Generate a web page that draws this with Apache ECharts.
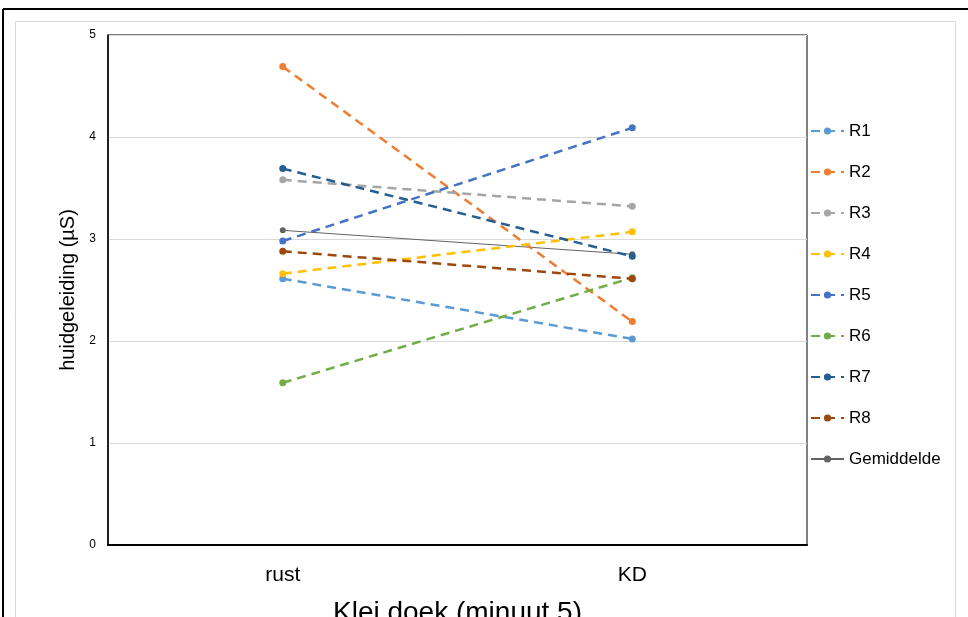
<!DOCTYPE html>
<html>
<head>
<meta charset="utf-8">
<script src="https://cdn.jsdelivr.net/npm/echarts@6/dist/echarts.min.js"></script>
<style>
  html, body { margin: 0; padding: 0; background: #fff; }
  #chart { width: 968px; height: 617px; }
</style>
</head>
<body>
<div id="chart"></div>
<script>
// Huidgeleiding per respondent: rust vs. klei doek (minuut 5)
const categories = ['rust', 'KD'];
const seriesNames = ['R1', 'R2', 'R3', 'R4', 'R5', 'R6', 'R7', 'R8', 'Gemiddelde'];
const R1 = [2.61, 2.02];
const R2 = [4.69, 2.19];
const R3 = [3.58, 3.32];
const R4 = [2.66, 3.07];
const R5 = [2.98, 4.09];
const R6 = [1.59, 2.62];
const R7 = [3.69, 2.83];
const R8 = [2.88, 2.61];
const Gemiddelde = [3.085, 2.85];
const yTicks = [0, 1, 2, 3, 4, 5];

const values = [R1, R2, R3, R4, R5, R6, R7, R8, Gemiddelde];
const colors = ['#5B9BD5', '#ED7D31', '#A5A5A5', '#FFC000', '#4472C4', '#70AD47', '#255E91', '#9E480E', '#636363'];

const FONT = '"Liberation Sans", Arial, sans-serif';

const series = seriesNames.map((name, i) => {
  const isMean = name === 'Gemiddelde';
  return {
    name: name,
    type: 'line',
    data: values[i],
    symbol: 'circle',
    symbolSize: isMean ? 6 : 7,
    z: isMean ? 1 : 2,
    itemStyle: { color: colors[i] },
    lineStyle: {
      color: colors[i],
      width: isMean ? 1 : 2.5,
      type: isMean ? 'solid' : [9, 6]
    }
  };
});

const chart = echarts.init(document.getElementById('chart'), null, { renderer: 'canvas' });
chart.setOption({
  animation: false,
  backgroundColor: '#ffffff',
  textStyle: { fontFamily: FONT },
  graphic: [
    // outer frame
    { type: 'line', shape: { x1: 3, y1: 9, x2: 968, y2: 9 }, style: { stroke: '#000', lineWidth: 2 } },
    { type: 'line', shape: { x1: 3, y1: 9, x2: 3, y2: 617 }, style: { stroke: '#000', lineWidth: 2 } },
    // chart area border
    { type: 'rect', shape: { x: 15.5, y: 21.5, width: 940, height: 620 }, style: { fill: 'none', stroke: '#d9d9d9', lineWidth: 1 } }
  ],
  grid: {
    left: 108, top: 35, right: 161, bottom: 72,
    outerBoundsMode: 'none',
    containLabel: false,
    show: true, borderColor: '#000', borderWidth: 1, backgroundColor: 'transparent'
  },
  legend: {
    orient: 'vertical',
    left: 810,
    top: 121,
    padding: 0,
    itemGap: 21,
    itemWidth: 33,
    itemHeight: 9,
    textStyle: { fontFamily: FONT, fontSize: 17, color: '#000', lineHeight: 20 },
    data: seriesNames
  },
  xAxis: {
    type: 'category',
    data: categories,
    boundaryGap: true,
    name: 'Klei doek (minuut 5)',
    nameLocation: 'middle',
    nameGap: 54,
    nameTextStyle: { fontFamily: FONT, fontSize: 28, color: '#000' },
    axisLine: { lineStyle: { color: '#000', width: 2 } },
    axisTick: { show: false },
    axisLabel: { margin: 20, fontSize: 21, color: '#000', fontFamily: FONT }
  },
  yAxis: {
    type: 'value',
    min: yTicks[0],
    max: yTicks[yTicks.length - 1],
    interval: 1,
    name: 'huidgeleiding (µS)',
    nameLocation: 'middle',
    nameGap: 22,
    nameTextStyle: { fontFamily: FONT, fontSize: 20, color: '#000' },
    axisLine: { show: true, lineStyle: { color: '#000', width: 1.5 } },
    axisTick: { show: false },
    axisLabel: { margin: 12, fontSize: 12, color: '#000', fontFamily: FONT },
    splitLine: { lineStyle: { color: '#d9d9d9', width: 1 } }
  },
  series: series
});
</script>
</body>
</html>
